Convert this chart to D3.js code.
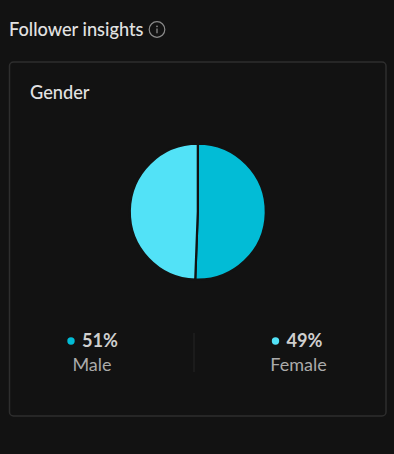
<!DOCTYPE html>
<head>
<style>
    html, body { margin: 0; padding: 0; background: #121212; }
    svg { display: block; }
    text { font-family: Lato, sans-serif; }
</style>
</head>

<body>
    <svg id="container" height="454" width="394"></svg>
</body>

<script src="https://d3js.org/d3.v7.min.js"></script>
<script>

    let categories = ["Male", "Female"]
    // the divider leans a little less than a true 51/49, labels show these rounded
    let shares = [50.6, 49.4]
    let sliceColors = ["#02bcd6", "#52e2f7"]

    let svg = d3.select("#container")

    // heading and info icon
    svg.append("text")
        .attr("x", 9).attr("y", 36)
        .attr("font-size", 18.2).attr("font-weight", 500)
        .attr("fill", "#e2e2e2")
        .text("Follower insights")

    let info = svg.append("g").attr("transform", "translate(157,29.5)")
    info.append("circle").attr("r", 7.8)
        .attr("fill", "none").attr("stroke", "#8a8a8a").attr("stroke-width", 1.2)
    info.append("circle").attr("cy", -3.2).attr("r", 0.9).attr("fill", "#8a8a8a")
    info.append("line").attr("y1", -1).attr("y2", 3.8)
        .attr("stroke", "#8a8a8a").attr("stroke-width", 1.3)

    // card
    svg.append("rect")
        .attr("x", 9.5).attr("y", 62)
        .attr("width", 376.5).attr("height", 354)
        .attr("rx", 4)
        .attr("fill", "#121212").attr("stroke", "#2e2e2e").attr("stroke-width", 1.5)

    svg.append("text")
        .attr("x", 30).attr("y", 99)
        .attr("font-size", 18.2).attr("font-weight", 500)
        .attr("fill", "#e2e2e2")
        .text("Gender")

    // pie, radius includes the half of the stroke that eats into the edge
    let pie = d3.pie().sort(null)
    let arc = d3.arc().innerRadius(0).outerRadius(68)

    svg.append("g")
        .attr("transform", "translate(197.8,211.7)")
        .selectAll("path")
        .data(pie(shares))
        .enter()
        .append("path")
        .attr("d", d => arc(d))
        .attr("fill", (d, i) => sliceColors[i])
        .attr("stroke", "#121212")
        .attr("stroke-width", 2.2)

    // legend
    let legendX = d3.scalePoint()
        .domain(categories)
        .range([92, 298.5])

    let dotOffset = { Male: -21, Female: -23 }

    let legend = svg.selectAll(".legend")
        .data(categories)
        .enter()
        .append("g")
        .attr("class", "legend")
        .attr("transform", d => `translate(${legendX(d)},0)`)

    legend.append("circle")
        .attr("cx", d => dotOffset[d]).attr("cy", 341)
        .attr("r", 3.7)
        .attr("fill", (d, i) => sliceColors[i])

    legend.append("text")
        .attr("x", d => dotOffset[d] + 11).attr("y", 347)
        .attr("font-size", 18.2).attr("font-weight", 700)
        .attr("fill", "#cfcfcf")
        .text((d, i) => Math.round(shares[i]) + "%")

    legend.append("text")
        .attr("y", 371)
        .attr("text-anchor", "middle")
        .attr("font-size", 18)
        .attr("fill", "#ababab")
        .text(d => d)

    svg.append("line")
        .attr("x1", 194).attr("x2", 194)
        .attr("y1", 333).attr("y2", 372)
        .attr("stroke", "#242424").attr("stroke-width", 1)

</script>
